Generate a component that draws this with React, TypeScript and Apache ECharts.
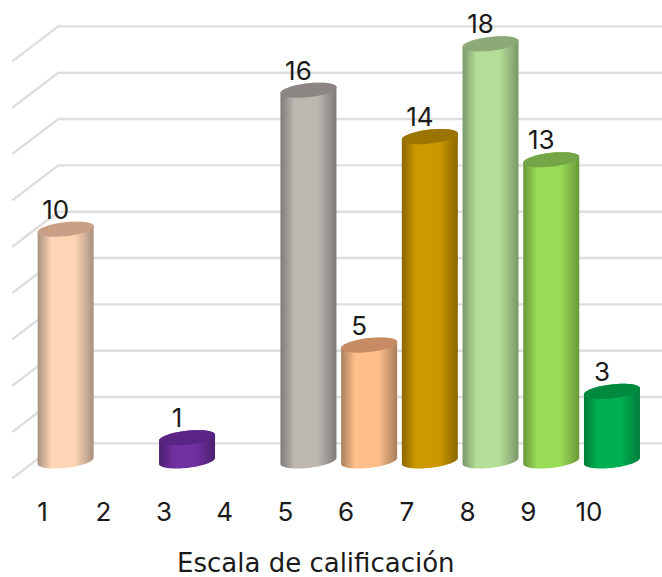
import React, { useEffect, useRef } from "react";
import * as echarts from "echarts";

const categories = ["1", "2", "3", "4", "5", "6", "7", "8", "9", "10"];
const values = [10, 0, 1, 0, 16, 5, 14, 18, 13, 3];
const gridTicks = [0, 2, 4, 6, 8, 10, 12, 14, 16, 18];
const axisTitle = "Escala de calificación";

const midColors = ["#FFD5B5", "#FFD5B5", "#7030A0", "#7030A0", "#BDB7B2", "#FFBE8A", "#CC9900", "#B4DE98", "#99DC55", "#00B050"];
const edgeColors = ["#A8917F", "#A8917F", "#4A2070", "#4A2070", "#7E7A77", "#A87E5C", "#8A6700", "#7B9769", "#6A973B", "#007C39"];
const topColors = ["#C99F85", "#C99F85", "#5A2485", "#5A2485", "#8B8684", "#C68B63", "#9C7500", "#8BAA78", "#74A546", "#008A40"];

const FONT = "Inter, 'DejaVu Sans', sans-serif";
const TITLE_FONT = "'DejaVu Sans', sans-serif";
const DEPTH_X = 46;
const DEPTH_Y = 35;
const RX = 28;
const RY = 7;
const SKEW = 3;

function arc(cx: number, cy: number, from: number, to: number) {
  const pts: number[][] = [];
  const n = 40;
  for (let k = 0; k <= n; k++) {
    const t = from + ((to - from) * k) / n;
    pts.push([cx + RX * Math.cos(t), cy + RY * Math.sin(t) - SKEW * Math.cos(t)]);
  }
  return pts;
}

export default function App() {
  const ref = useRef<HTMLDivElement>(null);
  useEffect(() => {
    const chart = echarts.init(ref.current!, undefined, { renderer: "svg" });
    chart.setOption({
      animation: false,
      backgroundColor: "#fff",
      grid: { left: 12.3, top: 61.4, width: 607, height: 417, outerBoundsMode: "none" },
      xAxis: {
        type: "category",
        data: categories,
        axisLine: { show: false },
        axisTick: { show: false },
        axisLabel: { fontFamily: FONT, fontSize: 26, color: "#1a1a1a", margin: 20 },
        name: axisTitle,
        nameLocation: "middle",
        nameGap: 72,
        nameTextStyle: { fontFamily: TITLE_FONT, fontSize: 26, color: "#1a1a1a" },
      },
      yAxis: {
        type: "value",
        min: 0,
        max: 18,
        interval: 2,
        show: false,
      },
      series: [
        {
          type: "custom",
          silent: true,
          clip: false,
          z: 1,
          data: gridTicks.map((t) => [0, t]),
          renderItem: (params: any, api: any) => {
            const y = api.coord([0, api.value(1)])[1];
            const left = params.coordSys.x;
            const right = left + params.coordSys.width;
            return {
              type: "polyline",
              shape: { points: [[left, y], [left + DEPTH_X, y - DEPTH_Y], [right + DEPTH_X, y - DEPTH_Y]] },
              style: { stroke: "#DEDEDE", lineWidth: 2.4, fill: "none" },
            };
          },
        },
        {
          type: "custom",
          silent: true,
          clip: false,
          z: 2,
          data: values.map((v, i) => [i, v]),
          renderItem: (_params: any, api: any) => {
            const i = api.value(0);
            const v = api.value(1);
            if (!v) return { type: "group", children: [] };
            const top = api.coord([i, v]);
            const base = api.coord([i, 0]);
            const cx = top[0] + DEPTH_X / 2;
            const topY = top[1] - DEPTH_Y / 2;
            const baseY = base[1] - DEPTH_Y / 2;
            const body = [...arc(cx, baseY, 0, Math.PI), ...arc(cx, topY, Math.PI, 2 * Math.PI)];
            return {
              type: "group",
              children: [
                {
                  type: "polygon",
                  shape: { points: body },
                  style: {
                    fill: new echarts.graphic.LinearGradient(0, 0, 1, 0, [
                      { offset: 0, color: edgeColors[i] },
                      { offset: 0.25, color: midColors[i] },
                      { offset: 0.66, color: midColors[i] },
                      { offset: 1, color: edgeColors[i] },
                    ]),
                  },
                },
                {
                  type: "polygon",
                  shape: { points: arc(cx, topY, 0, 2 * Math.PI) },
                  style: { fill: topColors[i] },
                },
                {
                  type: "text",
                  style: {
                    text: String(v),
                    x: cx - 10,
                    y: topY - 20,
                    fill: "#1a1a1a",
                    fontFamily: FONT,
                    fontSize: 26,
                    textAlign: "center",
                    textVerticalAlign: "middle",
                  },
                },
              ],
            };
          },
        },
      ],
    });
    return () => chart.dispose();
  }, []);
  return <div ref={ref} style={{ position: "absolute", left: 0, top: 0, width: 662, height: 577 }} />;
}
